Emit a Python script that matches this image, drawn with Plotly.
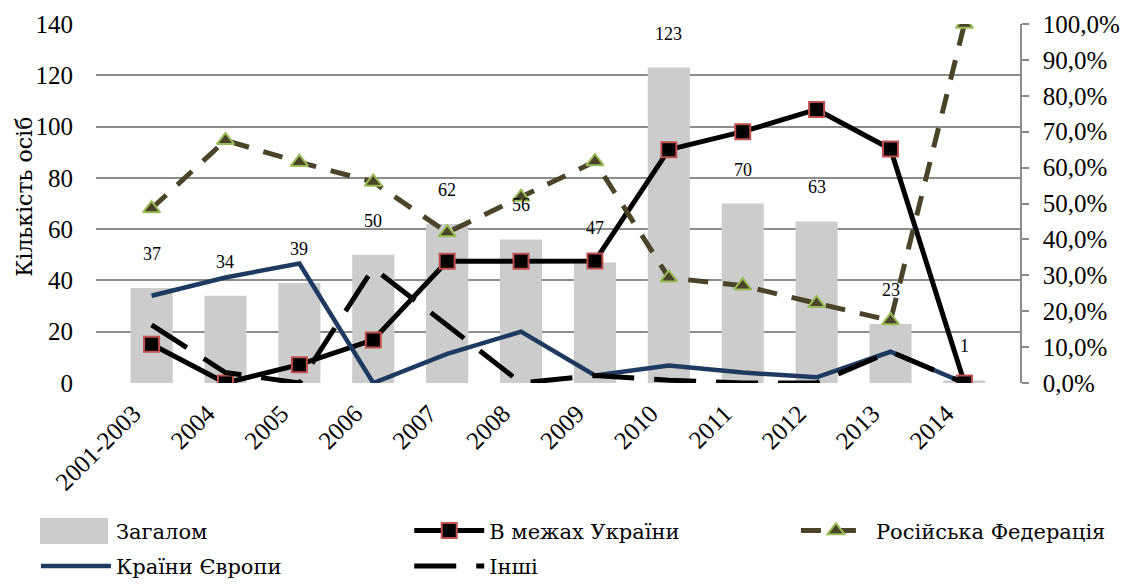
import plotly.graph_objects as go

# Categories (periods)
years = ["2001-2003", "2004", "2005", "2006", "2007", "2008",
         "2009", "2010", "2011", "2012", "2013", "2014"]

# Total number of persons (left axis)
total = [37, 34, 39, 50, 62, 56, 47, 123, 70, 63, 23, 1]

# Shares by destination, % (right axis)
ukraine = [10.8, 0.0, 5.1, 12.0, 33.9, 33.9, 34.0, 65.0, 70.0, 76.2, 65.2, 0.0]
russia = [48.6, 67.6, 61.5, 56.0, 41.9, 51.8, 61.7, 29.3, 27.1, 22.2, 17.4, 100.0]
europe = [24.3, 29.4, 33.3, 0.0, 8.1, 14.3, 2.1, 4.9, 2.9, 1.6, 8.7, 0.0]
other = [16.2, 2.9, 0.0, 32.0, 16.1, 0.0, 2.1, 0.8, 0.0, 0.0, 8.7, 0.0]

FONT = "Liberation Serif, DejaVu Serif, serif"
TEXT_FONT = "DejaVu Serif, serif"
GRID = "#8c8c8c"
BAR_COLOR = "#cccccc"

fig = go.Figure()

fig.add_trace(go.Bar(
    x=years, y=total, name="Загалом", legend="legend", legendgroup="total",
    marker=dict(color=BAR_COLOR, line=dict(width=0)),
    yaxis="y",
))

fig.add_trace(go.Scatter(
    x=years, y=[v / 100 for v in ukraine], name="В межах України",
    legend="legend2", legendgroup="ua", mode="lines+markers", yaxis="y2",
    line=dict(color="#000000", width=5),
    marker=dict(symbol="square", size=15, color="#000000",
                line=dict(color="#c0504d", width=2)),
))

fig.add_trace(go.Scatter(
    x=years, y=[v / 100 for v in russia], name="Російська Федерація",
    legend="legend3", legendgroup="ru", mode="lines+markers", yaxis="y2",
    line=dict(color="#4a4528", width=5, dash="20px,15px"),
    marker=dict(symbol="triangle-up", size=15, color="#4a4528",
                line=dict(color="#9bbb59", width=2)),
))

fig.add_trace(go.Scatter(
    x=years, y=[v / 100 for v in europe], name="Країни Європи",
    legend="legend", legendgroup="eu", mode="lines", yaxis="y2",
    line=dict(color="#1f3a60", width=4.5),
))

fig.add_trace(go.Scatter(
    x=years, y=[v / 100 for v in other], name="Інші",
    legend="legend2", legendgroup="other", mode="lines", yaxis="y2",
    line=dict(color="#000000", width=5, dash="42px,20px"),
))

# Value labels above the bars (category index used as x position)
for i, v in enumerate(total):
    fig.add_annotation(
        x=i, y=v, xref="x", yref="y", text=str(v), showarrow=False,
        yshift=34, font=dict(family=FONT, size=18, color="#000000"),
    )

# Left axis title
fig.add_annotation(
    text="Кількість осіб", xref="paper", yref="paper", x=-0.0775, y=0.52,
    xanchor="center", yanchor="middle", textangle=-90, showarrow=False,
    font=dict(family=TEXT_FONT, size=22, color="#000000"),
)

# Wide key swatch for the bar series in the legend
fig.add_shape(
    type="rect", xref="paper", yref="paper",
    x0=-0.0606, x1=0.013, y0=-0.4485, y1=-0.376,
    fillcolor=BAR_COLOR, line=dict(width=0), layer="above",
)

LEG_Y = -0.355
legend_style = dict(
    orientation="v", xanchor="left", y=LEG_Y, yanchor="top",
    itemwidth=70, traceorder="grouped", tracegroupgap=5,
    font=dict(family=TEXT_FONT, size=21, color="#000000"),
    bgcolor="rgba(0,0,0,0)", borderwidth=0,
)

fig.update_layout(
    width=1124, height=584,
    margin=dict(l=96, r=104, t=24, b=201, autoexpand=False),
    paper_bgcolor="white", plot_bgcolor="white",
    separators=", ",
    font=dict(family=FONT, size=25, color="#000000"),
    bargap=0.43,
    showlegend=True,
    legend=dict(x=-0.065, **legend_style),
    legend2=dict(x=0.339, **legend_style),
    legend3=dict(x=0.7575, **legend_style),
    xaxis=dict(
        type="category", tickangle=-45, showgrid=False, showline=False,
        zeroline=False, ticks="", ticklabelstandoff=10, ticklabelshift=-18,
        automargin=False,
        tickfont=dict(family=FONT, size=25),
    ),
    yaxis=dict(
        range=[0, 140], dtick=20, showgrid=True, gridcolor=GRID, gridwidth=1.5,
        zeroline=False, showline=False, ticks="", ticklabelstandoff=22,
        automargin=False,
        tickfont=dict(family=FONT, size=25),
    ),
    yaxis2=dict(
        overlaying="y", side="right", range=[0, 1], dtick=0.1,
        tickformat=".1%", showgrid=False, zeroline=False,
        showline=True, linecolor=GRID, linewidth=1.5,
        ticks="outside", ticklen=7, tickcolor=GRID, tickwidth=1.5,
        ticklabelstandoff=9, automargin=False,
        tickfont=dict(family=FONT, size=25),
    ),
)

fig.write_html("out.html")
